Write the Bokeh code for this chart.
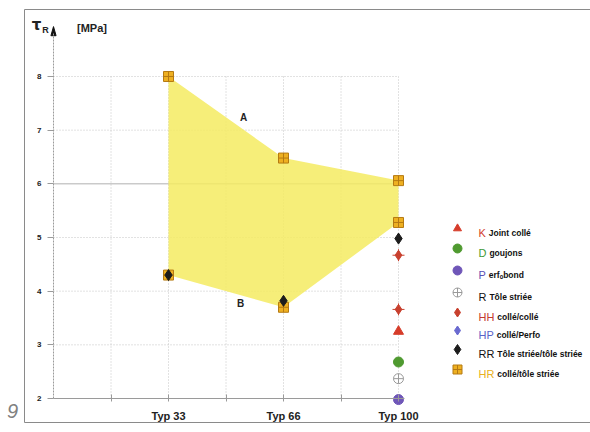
from bokeh.plotting import figure
from bokeh.models import LinearAxis, FixedTicker, Range1d, Label, ColumnDataSource
from bokeh.core.properties import value
from bokeh.embed import file_html
from bokeh.resources import INLINE

# ---------------- data ----------------
categories = ["Typ 33", "Typ 66", "Typ 100"]
cat_x = [2, 4, 6]

hr_upper = [8.00, 6.48, 6.06]   # HR collé/tôle striée (upper values)
hr_lower = [4.30, 3.70, 5.28]   # HR collé/tôle striée (lower values)
rr_values = [4.30, 3.82, 4.98]  # RR Tôle striée/tôle striée
hh_values = [4.67, 3.66]        # HH collé/collé at Typ 100
k_values = [3.25]               # K Joint collé at Typ 100
d_values = [2.68]               # D goujons at Typ 100
r_values = [2.37]               # R Tôle striée at Typ 100
p_values = [1.98]               # P Perfobond at Typ 100

y_ticks = [2, 3, 4, 5, 6, 7, 8]
x_ticks = [1, 2, 3, 4, 5, 6]

legend_keys = ["K", "D", "P", "R", "HH", "HP", "RR", "HR"]
legend_texts = ["Joint collé", "goujons", "erfₒbond", "Tôle striée",
                "collé/collé", "collé/Perfo", "Tôle striée/tôle striée",
                "collé/tôle striée"]

# ---------------- layout helpers ----------------
FONT_NAME = "Liberation Sans"
FONT = value(FONT_NAME)
W, H = 590, 432
X0_PX, XU = 53.0, 57.5      # px of x=0, px per x unit
Y2_PX, YU = 398.0, 53.667   # px of y=2, px per y unit
BL, BT, BB = 23.5, 8.5, 421.5   # page border box edges in px


def dx(px):
    return (px - X0_PX) / XU


def dy(py):
    return 2 + (Y2_PX - py) / YU


p = figure(width=W, height=H,
           x_range=Range1d(dx(0), dx(W)), y_range=Range1d(dy(H), dy(0)),
           x_axis_location=None, y_axis_location=None,
           toolbar_location=None, output_backend="svg",
           min_border_left=0, min_border_right=0, min_border_top=0,
           min_border_bottom=0)
p.xgrid.visible = False
p.ygrid.visible = False
p.outline_line_color = None
p.background_fill_color = "white"
p.border_fill_color = "white"


def frame_line(loc, side, bounds):
    ax = LinearAxis(fixed_location=loc, bounds=bounds, ticker=FixedTicker(ticks=[]))
    ax.axis_line_color = "#8a8a8a"
    ax.axis_line_width = 1
    ax.major_tick_line_color = None
    ax.minor_tick_line_color = None
    ax.major_label_text_font_size = "0px"
    p.add_layout(ax, side)


# page border box (left, top, bottom; the right side runs off the page)
frame_line(dx(BL), "left", (dy(BB), dy(BT)))
frame_line(dy(BT), "below", (dx(BL), dx(W)))
frame_line(dy(BB), "below", (dx(BL), dx(W)))

# grid
p.segment(x0=x_ticks, y0=[2] * len(x_ticks), x1=x_ticks, y1=[8] * len(x_ticks),
          line_color="#c4c4c4", line_dash="1 2", line_width=1)
hy = [t for t in y_ticks if t not in (2, 6)]
p.segment(x0=[0] * len(hy), y0=hy, x1=[6] * len(hy), y1=hy,
          line_color="#c4c4c4", line_dash="1 2", line_width=1)
p.segment(x0=[0], y0=[6], x1=[6], y1=[6], line_color="#b0b0b0", line_width=1)

# envelope polygon
poly_x = cat_x + cat_x[::-1]
poly_y = hr_upper + hr_lower[::-1]
p.patch(poly_x, poly_y, fill_color="#f5eb62", fill_alpha=0.85, line_color=None)

# axes
xa = LinearAxis(fixed_location=2, bounds=(0, 6.1),
                ticker=FixedTicker(ticks=x_ticks),
                major_label_overrides={1: "", 2: categories[0], 3: "",
                                       4: categories[1], 5: "", 6: categories[2]})
xa.axis_line_color = "#9a9a9a"
xa.major_tick_line_color = "#9a9a9a"
xa.major_tick_in = 4
xa.major_tick_out = 3
xa.minor_tick_line_color = None
xa.major_label_standoff = 8
xa.major_label_text_font = FONT_NAME
xa.major_label_text_font_style = "bold"
xa.major_label_text_font_size = "11px"
xa.major_label_text_color = "#222222"
p.add_layout(xa, "below")

ya = LinearAxis(fixed_location=0, bounds=(2, 8.8),
                ticker=FixedTicker(ticks=y_ticks))
ya.axis_line_color = "#9a9a9a"
ya.axis_line_dash = "2 1"
ya.major_tick_line_color = "#9a9a9a"
ya.major_tick_in = 0
ya.major_tick_out = 6
ya.minor_tick_line_color = None
ya.major_label_standoff = 6
ya.major_label_text_font = FONT_NAME
ya.major_label_text_font_style = "bold"
ya.major_label_text_font_size = "8px"
ya.major_label_text_color = "#222222"
p.add_layout(ya, "left")

# arrow head on the y axis
p.patch([-0.045, 0, 0.045], [8.76, 8.93, 8.76], color="#111111")

# markers
p.scatter(cat_x + cat_x, hr_upper + hr_lower, marker="square_cross", size=10,
          fill_color="#eeb021", line_color="#b57a12", line_width=1)
p.scatter(cat_x, rr_values, marker="diamond", size=11,
          fill_color="#1c1c1c", line_color="#1c1c1c")
p.scatter([6] * len(hh_values), hh_values, marker="cross", size=12,
          line_color="#c8402e", line_width=1)
p.scatter([6] * len(hh_values), hh_values, marker="diamond", size=10,
          fill_color="#c8402e", line_color="#c8402e")
p.scatter([6] * len(k_values), k_values, marker="triangle", size=10,
          fill_color="#d63c2a", line_color="#d63c2a")
p.scatter([6] * len(d_values), d_values, marker="circle", size=10,
          fill_color="#4f9a30", line_color="#4f9a30")
p.scatter([6] * len(r_values), r_values, marker="circle_cross", size=10,
          fill_color="white", line_color="#9a9a9a")
p.scatter([6] * len(p_values), p_values, marker="circle", size=10,
          fill_color="#6f56b8", line_color="#6f56b8")

# curve labels
for t, x, y in [("A", dx(243), dy(117)), ("B", dx(240), dy(303))]:
    p.add_layout(Label(x=x, y=y, text=t, text_font=FONT_NAME, text_font_style="bold",
                       text_font_size="10px", text_color="#222222",
                       text_align="center", text_baseline="middle"))

# axis title
p.add_layout(Label(x=dx(36), y=dy(24), text="τ", text_font="DejaVu Sans",
                   text_font_style="bold", text_font_size="15px", text_color="#222222",
                   text_align="center", text_baseline="middle"))
p.add_layout(Label(x=dx(45), y=dy(29), text="R", text_font=FONT_NAME,
                   text_font_style="bold", text_font_size="9px", text_color="#222222",
                   text_align="center", text_baseline="middle"))
p.add_layout(Label(x=dx(91.5), y=dy(27), text="[MPa]", text_font=FONT_NAME,
                   text_font_style="bold", text_font_size="11px", text_color="#222222",
                   text_align="center", text_baseline="middle"))

# page number
p.add_layout(Label(x=dx(12), y=dy(410), text="9", text_font=FONT_NAME,
                   text_font_style="italic", text_font_size="20px", text_color="#808080",
                   text_align="center", text_baseline="middle"))

# custom legend
leg_py = [228, 248, 270, 292, 312, 330, 349, 369]
leg_markers = ["triangle", "circle", "circle", "circle_cross", "diamond",
               "diamond", "diamond", "square_cross"]
leg_fill = ["#d63c2a", "#4f9a30", "#6f56b8", "white", "#c8402e", "#6a6ad0",
            "#1c1c1c", "#eeb021"]
leg_line = ["#d63c2a", "#4f9a30", "#6f56b8", "#9a9a9a", "#c8402e", "#6a6ad0",
            "#1c1c1c", "#b57a12"]
leg_size = [8, 9, 9, 9, 9, 9, 10, 9]
leg_key_color = ["#d2402a", "#3f9a35", "#5a4fb5", "#111111", "#c43a2e",
                 "#5a62c8", "#111111", "#e8b020"]
char_w = {"K": 7.3, "D": 7.9, "P": 7.3, "R": 7.9, "H": 7.9}
key_w = [sum(char_w[c] for c in k) for k in legend_keys]

leg_src = ColumnDataSource(dict(
    xm=[dx(457)] * len(legend_keys), xt=[dx(478)] * len(legend_keys),
    y=[dy(v) for v in leg_py], marker=leg_markers, fill=leg_fill, line=leg_line,
    size=leg_size, key=legend_keys, keycol=leg_key_color, txt=legend_texts,
    off=[w + 3 for w in key_w]))
p.scatter(x="xm", y="y", marker="marker", size="size", fill_color="fill",
          line_color="line", source=leg_src)
p.text(x="xt", y="y", text="key", text_color="keycol", text_font=FONT,
       text_font_size="11px", text_baseline="alphabetic", y_offset=4,
       source=leg_src)
p.text(x="xt", y="y", text="txt", x_offset="off", text_color="#111111",
       text_font=FONT, text_font_style="bold", text_font_size="8.5px",
       text_baseline="alphabetic", y_offset=4, source=leg_src)

open("out.html", "w").write(file_html(p, INLINE))
